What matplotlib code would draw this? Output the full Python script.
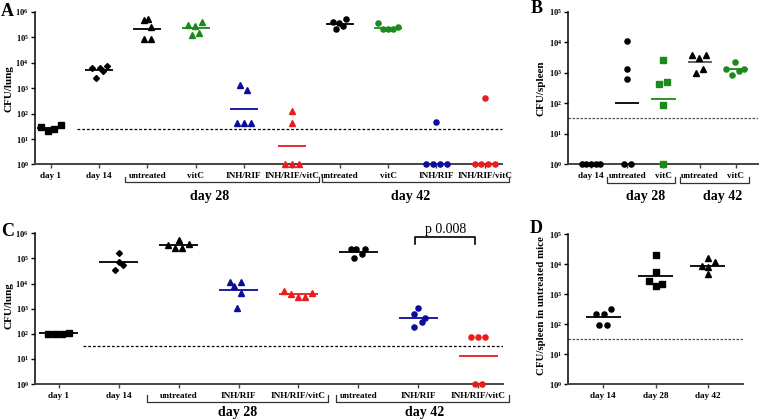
import numpy as np
import matplotlib
matplotlib.use('Agg')
import matplotlib.pyplot as plt
from matplotlib.ticker import FixedLocator, FixedFormatter, NullLocator

plt.rcParams['font.family'] = ['Liberation Serif', 'DejaVu Serif']
plt.rcParams['font.weight'] = 'bold'
plt.rcParams['mathtext.fontset'] = 'custom'
plt.rcParams['mathtext.rm'] = 'Liberation Serif:bold'
plt.rcParams['mathtext.bf'] = 'Liberation Serif:bold'

K = '#000000'; G = '#1a8a1a'; B = '#0c0c9c'; R = '#ec1c1c'; GR = '#555555'

# ---------------- data ----------------
a_categories = ['day 1', 'day 14', 'untreated', 'vitC', 'INH/RIF', 'INH/RIF/vitC',
                'untreated', 'vitC', 'INH/RIF', 'INH/RIF/vitC']
a_values = [[31, 20, 26, 35],
            [6300, 2450, 6000, 4600, 7400],
            [4.9e5, 5.3e5, 2.5e5, 8.9e4, 8.9e4],
            [3.1e5, 2.9e5, 4.2e5, 1.2e5, 1.5e5],
            [1350, 860, 42, 42, 42],
            [127, 42, 1, 1, 1],
            [4.2e5, 3.8e5, 5.4e5, 2.1e5, 2.7e5],
            [3.6e5, 2.1e5, 2.1e5, 2.2e5, 2.5e5],
            [49, 1, 1, 1, 1],
            [426, 1, 1, 1, 1]]
a_centers = [27, 5200, 2.2e5, 2.3e5, 154, 5.5, 3.4e5, 2.4e5, None, None]
a_lod = 25
a_groups = ['day 28', 'day 42']

b_categories = ['day 14', 'untreated', 'vitC', 'untreated', 'vitC']
b_values = [[1, 1, 1, 1, 1],
            [1.1e4, 1300, 630, 1, 1],
            [2500, 435, 480, 87, 1],
            [3800, 2950, 3800, 1000, 1290],
            [1310, 850, 2180, 1100, 1340]]
b_centers = [None, 98, 135, 2280, 1290]
b_lod = 31.6
b_groups = ['day 28', 'day 42']

c_categories = ['day 1', 'day 14', 'untreated', 'INH/RIF', 'INH/RIF/vitC',
                'untreated', 'INH/RIF', 'INH/RIF/vitC']
c_values = [[102, 98, 102, 107],
            [1.7e5, 7.1e4, 5.5e4, 3.5e4],
            [3.5e5, 2.7e5, 5.5e5, 2.7e5, 3.7e5],
            [1.12e4, 8000, 1.2e4, 4330, 1100],
            [5100, 3850, 2840, 2840, 4240],
            [2.3e5, 2.3e5, 2.3e5, 1.5e5, 1.07e5],
            [1100, 630, 415, 295, 186],
            [74, 74, 74, 1, 1]]
c_centers = [104, 7e4, 3.5e5, 5600, 3870, 1.8e5, 437, 12.7]
c_lod = 31.7
c_groups = ['day 28', 'day 42']
c_pvalue = 'p 0.008'

d_categories = ['day 14', 'day 28', 'day 42']
d_values = [[215, 210, 316, 93, 93],
            [2e4, 5500, 2760, 1850, 2150],
            [1.55e4, 8700, 8100, 1.14e4, 4640]]
d_centers = [167, 4070, 8700]
d_lod = 31

# ---------------- layout / style ----------------
a_offsets = [[-0.21, -0.07, 0.07, 0.21],
             [-0.145, -0.06, 0.01, 0.08, 0.16],
             [-0.076, 0.014, 0.083, -0.062, 0.083],
             [-0.16, -0.007, 0.13, -0.076, 0.062],
             [-0.07, 0.077, -0.14, 0, 0.145],
             [0, 0, -0.15, 0, 0.145],
             [-0.145, -0.02, 0.13, -0.077, 0.062],
             [-0.22, -0.12, -0.015, 0.09, 0.21],
             [0, -0.21, -0.077, 0.07, 0.21],
             [0, -0.21, -0.07, 0.07, 0.22]]
a_markers = ['s', 'D', '^', '^', '^', '^', 'o', 'o', 'o', 'o']
a_colors = [K, K, K, G, B, R, K, G, B, R]

b_offsets = [[-0.254, -0.127, 0, 0.127, 0.254],
             [0, 0, 0, -0.1, 0.1],
             [0, -0.11, 0.09, 0, 0],
             [-0.2, -0.01, 0.18, -0.11, 0.086],
             [-0.27, -0.105, -0.014, 0.08, 0.235]]
b_markers = ['o', 'o', 's', '^', 'o']
b_colors = [K, K, G, K, G]
b_linecolors = [K, K, G, GR, G]

c_offsets = [[-0.17, -0.06, 0.06, 0.17],
             [0, 0, 0.067, -0.056],
             [-0.18, -0.055, 0, 0.06, 0.17],
             [-0.15, -0.083, 0.04, 0.04, -0.03],
             [-0.24, -0.13, 0, 0.105, 0.22],
             [-0.13, -0.033, 0.11, 0.055, -0.067],
             [0, -0.067, 0.11, 0.055, -0.067],
             [-0.12, 0, 0.117, -0.055, 0.055]]
c_markers = ['s', 'D', '^', '^', '^', 'o', 'o', 'o']
c_colors = [K, K, K, B, R, K, B, R]

d_offsets = [[-0.13, 0.013, 0.14, -0.077, 0.063],
             [0, 0, -0.134, 0, 0.134],
             [0, -0.115, 0, 0.14, 0]]
d_markers = ['o', 's', '^']
d_colors = [K, K, K]

MS = {'o': 3.7, 's': 3.7, '^': 4.3, 'D': 3.0}

W, H = 760, 419
fig = plt.figure(figsize=(W / 100, H / 100), dpi=100)


def make_ax(l, r, b, t):
    return fig.add_axes([l / W, 1 - b / H, (r - l) / W, (b - t) / H])


def style_ax(ax, ndec, xlim, cats, ylabel, labx, laby, labsize=8):
    ax.set_yscale('log')
    ax.set_ylim(1, 10 ** ndec)
    ax.set_xlim(*xlim)
    ax.yaxis.set_major_locator(FixedLocator([10 ** i for i in range(ndec + 1)]))
    ax.yaxis.set_major_formatter(FixedFormatter([r'$\mathbf{10^{%d}}$' % i for i in range(ndec + 1)]))
    ax.yaxis.set_minor_locator(NullLocator())
    ax.set_xticks(range(len(cats)))
    ax.set_xticklabels(cats, fontsize=6.6, fontweight='bold')
    for s in ['top', 'right']:
        ax.spines[s].set_visible(False)
    ax.spines['left'].set_linewidth(1.1)
    ax.spines['bottom'].set_linewidth(1.4)
    ax.spines['bottom'].set_color('#444444')
    ax.tick_params(axis='y', length=3, width=1, pad=1.5, labelsize=6)
    ax.tick_params(axis='x', length=3, width=1, pad=2.5, color='#444444')
    ax.set_ylabel(ylabel, fontsize=labsize, fontweight='bold')
    ax.yaxis.set_label_coords(labx, laby)


def draw(ax, values, centers, offsets, markers, colors, half, linecolors=None):
    for i, (vals, off) in enumerate(zip(values, offsets)):
        xs = [i + o for o in off]
        ax.plot(xs, vals, linestyle='none', marker=markers[i], ms=MS[markers[i]],
                color=colors[i], mec=colors[i], clip_on=False, zorder=4)
        if centers[i] is not None:
            lc = linecolors[i] if linecolors else colors[i]
            ax.plot([i - half, i + half], [centers[i]] * 2, color=lc, lw=1.3,
                    solid_capstyle='butt', zorder=3)


def lod(ax, y, x0, x1, color, dash):
    ax.plot([x0, x1], [y, y], color=color, lw=0.9, linestyle=(0, dash), zorder=2)


def bracket(ax, x0, x1, yb, yt, text, tx, ty):
    tr = ax.get_xaxis_transform()
    ax.plot([x0, x0, x1, x1], [yt, yb, yb, yt], color='#333333', lw=0.9,
            transform=tr, clip_on=False)
    ax.text(tx, ty, text, transform=tr, ha='center', va='center',
            fontsize=10, fontweight='bold')


# Panel A
axA = make_ax(35, 502.5, 164.5, 12)
xlA = (-0.332, 9.37)
style_ax(axA, 6, xlA, a_categories, 'CFU/lung', -0.045, 0.5)
draw(axA, a_values, a_centers, a_offsets, a_markers, a_colors, 0.29)
lod(axA, a_lod, 0.54, xlA[1], K, (2.2, 1.6))
bracket(axA, 1.535, 5.57, -0.113, -0.08, a_groups[0], 3.3, -0.207)
bracket(axA, 5.63, 9.5, -0.113, -0.08, a_groups[1], 7.47, -0.207)

# Panel B
axB = make_ax(568.3, 758, 164, 11.7)
xlB = (-0.627, 4.61)
style_ax(axB, 5, xlB, b_categories, 'CFU/spleen', -0.118, 0.5)
draw(axB, b_values, b_centers, b_offsets, b_markers, b_colors, 0.335, b_linecolors)
lod(axB, b_lod, xlB[0], xlB[1], GR, (2.0, 1.2))
bracket(axB, 0.43, 2.32, -0.123, -0.083, b_groups[0], 1.51, -0.215)
bracket(axB, 2.46, 4.37, -0.123, -0.083, b_groups[1], 3.62, -0.215)

# Panel C
axC = make_ax(35, 503, 384, 233.3)
xlC = (-0.393, 7.41)
style_ax(axC, 6, xlC, c_categories, 'CFU/lung', -0.045, 0.52)
draw(axC, c_values, c_centers, c_offsets, c_markers, c_colors, 0.33)
lod(axC, c_lod, 0.4, xlC[1], K, (2.2, 1.6))
bracket(axC, 1.47, 4.5, -0.117, -0.073, c_groups[0], 2.99, -0.188)
bracket(axC, 4.63, 7.51, -0.117, -0.073, c_groups[1], 6.1, -0.188)
trC = axC.get_xaxis_transform()
axC.plot([5.94, 5.94, 6.95, 6.95], [0.927, 0.974, 0.974, 0.927], color=K, lw=1.2,
         transform=trC, clip_on=False)
axC.text(6.45, 0.98, c_pvalue, transform=trC, ha='center', va='bottom',
         fontsize=10, fontweight='normal')

# Panel D
axD = make_ax(568.3, 742.7, 384, 234)
xlD = (-0.67, 2.67)
style_ax(axD, 5, xlD, d_categories, 'CFU/spleen in untreated mice', -0.128, 0.525, labsize=7.8)
draw(axD, d_values, d_centers, d_offsets, d_markers, d_colors, 0.33)
lod(axD, d_lod, xlD[0], xlD[1], GR, (2.0, 1.2))

# Panel letters
for lab, x, y in [('A', 1, 12), ('B', 531, 8.5), ('C', 1, 231), ('D', 530, 228)]:
    fig.text(x / W, 1 - y / H, lab, ha='left', va='center', fontsize=13, fontweight='bold')

fig.savefig('out.png', dpi=100)
